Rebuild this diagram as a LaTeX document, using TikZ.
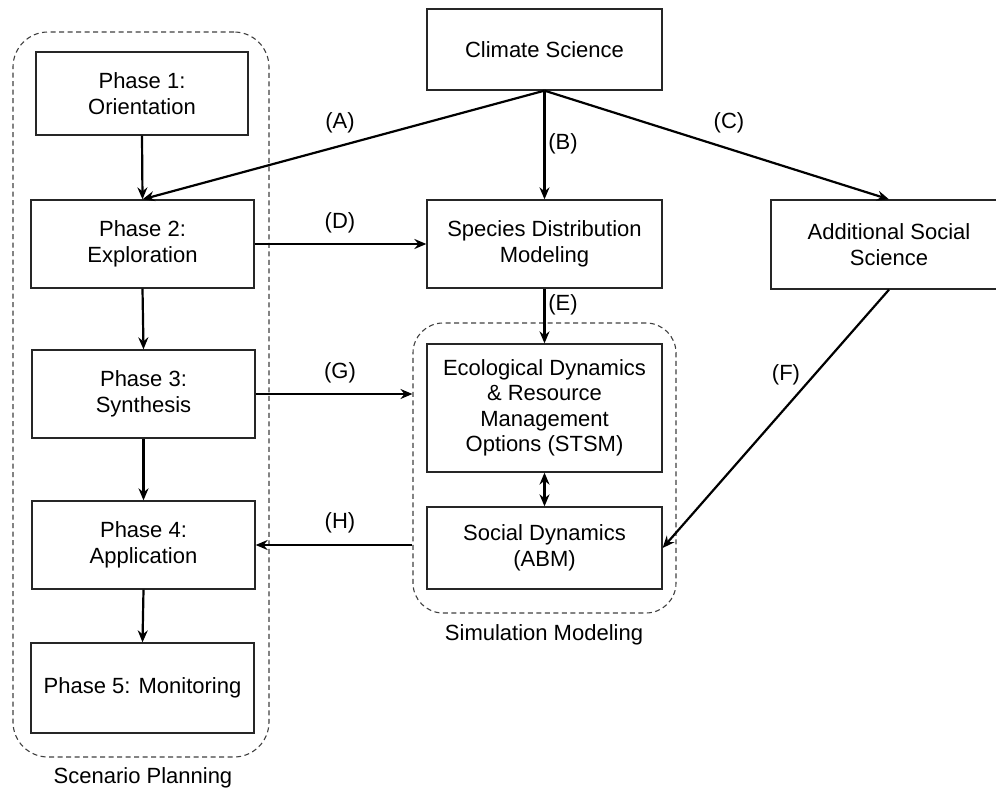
\documentclass[tikz,border=0pt]{standalone}
\usepackage{fontspec}
\setmainfont{Liberation Sans}
\usetikzlibrary{arrows.meta}
\begin{document}
\begin{tikzpicture}[x=1pt,y=-1pt,
  box/.style={draw=black!85, line width=1.3pt, align=center, inner sep=0pt,
    font=\fontsize{22}{25.5}\selectfont},
  lbl/.style={font=\fontsize{22}{25.5}\selectfont, inner sep=0pt},
  grp/.style={draw=black!75, line width=1.1pt, dash pattern=on 5pt off 3.5pt},
  arr/.style={line width=2.2pt, -{Stealth[length=12pt,width=10pt,inset=4pt]}},
  darr/.style={line width=2.2pt, {Stealth[length=12pt,width=10pt,inset=4pt]}-{Stealth[length=12pt,width=10pt,inset=4pt]}}
]
\useasboundingbox (0,0) rectangle (996,791);
\clip (0,0) rectangle (996,791);
% group boxes
\node[grp, rounded corners=35pt, minimum width=256pt, minimum height=725pt] (scen) at (141,394.5) {};
\node[grp, rounded corners=30pt, minimum width=263pt, minimum height=290pt] (sim) at (544.5,468) {};
\node[lbl] (scenl) at (143,778) {Scenario Planning};
\node[lbl] (siml) at (544,635) {Simulation Modeling};
% boxes
\node[box, minimum width=235pt, minimum height=81pt] (clim) at (544.5,49.5) {Climate Science};
\node[box, minimum width=212pt, minimum height=83pt] (p1) at (142,93.5) {Phase 1:\\Orientation};
\node[box, minimum width=223pt, minimum height=88pt] (p2) at (142.5,244) {Phase 2:\\Exploration};
\node[box, minimum width=223pt, minimum height=88pt] (p3) at (143.5,394) {Phase 3:\\Synthesis};
\node[box, minimum width=223pt, minimum height=88pt] (p4) at (143.5,545) {Phase 4:\\Application};
\node[box, minimum width=223pt, minimum height=90pt] (p5) at (142.5,688) {Phase 5: Monitoring};
\node[box, minimum width=235pt, minimum height=88pt] (sdm) at (544.5,244) {Species Distribution\\Modeling};
\node[box, minimum width=236pt, minimum height=89pt] (ass) at (889,244.5) {Additional Social\\Science};
\node[box, minimum width=235pt, minimum height=128pt] (eco) at (544.5,408) {Ecological Dynamics\\\& Resource\\Management\\Options (STSM)};
\node[box, minimum width=235pt, minimum height=82pt] (soc) at (544.5,548) {Social Dynamics\\(ABM)};
% connectors
\draw[arr] (clim.south) -- (p2.north);
\draw[arr] (clim.south) -- (sdm.north);
\draw[arr] (clim.south) -- (ass.north);
\draw[arr] (p1.south) -- (p2.north);
\draw[arr] (p2.south) -- (p3.north);
\draw[arr] (p3.south) -- (p4.north);
\draw[arr] (p4.south) -- (p5.north);
\draw[arr] (p2.east) -- (sdm.west);
\draw[arr] (sdm.south) -- (eco.north);
\draw[arr] (p3.east) -- (p3.east -| sim.west);
\draw[arr] (p4.east -| sim.west) -- (p4.east);
\draw[arr] (ass.south) -- (soc.east);
\draw[darr] (eco.south) -- (soc.north);
% labels
\node[lbl] (la) at (340,123) {(A)};
\node[lbl] (lb) at (563,144) {(B)};
\node[lbl] (lc) at (729,123) {(C)};
\node[lbl] (ld) at (340,223) {(D)};
\node[lbl] (le) at (563,305) {(E)};
\node[lbl] (lf) at (786,375) {(F)};
\node[lbl] (lg) at (340,373) {(G)};
\node[lbl] (lh) at (340,523) {(H)};
\end{tikzpicture}
\end{document}
